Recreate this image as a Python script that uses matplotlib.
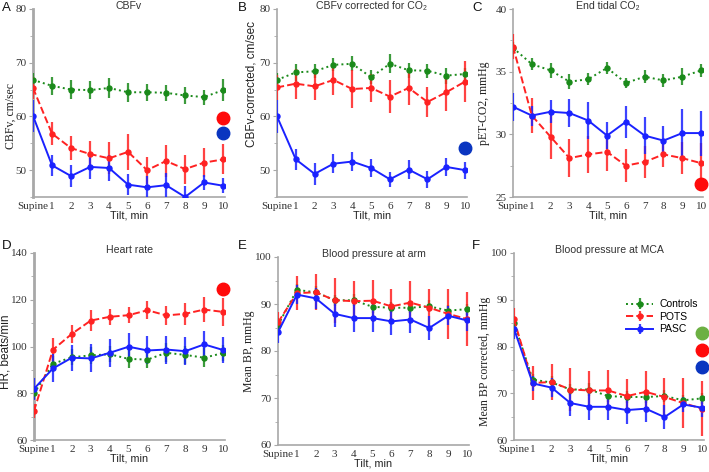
import matplotlib
matplotlib.use("Agg")
import matplotlib.pyplot as plt
from matplotlib.ticker import MultipleLocator

W, H = 709, 472

x_labels = ["Supine", "1", "2", "3", "4", "5", "6", "7", "8", "9", "10"]
x_pos = list(range(11))
groups = ["Controls", "POTS", "PASC"]

# Panel A: CBFv
a_ctrl = [66.8, 65.7, 65.0, 64.9, 65.3, 64.5, 64.5, 64.4, 63.9, 63.6, 64.9]
a_ctrl_err = [1.2, 1.7, 1.7, 1.7, 1.8, 1.8, 1.6, 1.5, 1.5, 1.4, 2.0]
a_pots = [65.3, 56.8, 54.1, 53.0, 52.2, 53.4, 50.0, 51.7, 50.2, 51.4, 52.0]
a_pots_err = [2.0, 2.2, 2.2, 2.4, 3.0, 3.4, 2.5, 2.9, 2.7, 2.7, 2.8]
a_pasc = [60.1, 50.9, 48.9, 50.6, 50.4, 47.3, 46.8, 47.2, 45.0, 47.7, 47.1]
a_pasc_err = [3.0, 2.0, 2.1, 2.3, 2.5, 2.0, 2.2, 2.2, 2.0, 1.4, 1.4]

# Panel B: CBFv corrected for CO2
b_ctrl = [66.8, 68.2, 68.4, 69.6, 69.8, 67.3, 69.8, 68.6, 68.5, 67.6, 67.9]
b_ctrl_err = [1.3, 1.6, 1.3, 1.2, 1.4, 1.3, 1.8, 1.4, 1.3, 1.5, 1.2]
b_pots = [65.4, 66.1, 65.6, 66.8, 65.1, 65.3, 63.7, 65.3, 62.7, 64.5, 66.5]
b_pots_err = [2.3, 2.8, 2.5, 2.9, 3.5, 2.6, 3.0, 3.1, 2.8, 3.4, 3.8]
b_pasc = [60.0, 52.0, 49.3, 51.2, 51.6, 50.4, 48.3, 50.1, 48.3, 50.6, 50.0]
b_pasc_err = [3.0, 2.0, 2.1, 1.8, 1.8, 1.6, 1.4, 1.7, 1.6, 1.6, 1.6]

# Panel C: End tidal CO2
c_ctrl = [36.9, 35.6, 35.1, 34.2, 34.4, 35.3, 34.1, 34.6, 34.3, 34.6, 35.1]
c_ctrl_err = [0.5, 0.5, 0.6, 0.6, 0.5, 0.5, 0.4, 0.5, 0.5, 0.7, 0.5]
c_pots = [37.0, 31.5, 29.8, 28.1, 28.4, 28.6, 27.5, 27.8, 28.4, 28.1, 27.7]
c_pots_err = [1.0, 1.4, 1.8, 1.5, 1.5, 1.5, 1.3, 1.3, 1.0, 1.3, 1.6]
c_pasc = [32.2, 31.5, 31.8, 31.7, 31.1, 29.9, 31.0, 29.9, 29.5, 30.1, 30.1]
c_pasc_err = [1.1, 0.8, 0.9, 1.1, 1.5, 1.1, 1.3, 1.5, 1.2, 1.9, 1.8]

# Panel D: Heart rate
d_ctrl = [79.9, 92.6, 95.4, 96.2, 96.7, 94.7, 94.4, 97.3, 96.4, 95.2, 97.2]
d_ctrl_err = [2.5, 3.5, 3.5, 3.5, 3.5, 4.0, 3.5, 4.0, 3.8, 4.0, 3.5]
d_pots = [72.4, 98.6, 105.4, 111.1, 112.7, 113.4, 115.5, 113.3, 114.0, 115.8, 114.8]
d_pots_err = [3.0, 5.0, 4.0, 4.5, 3.5, 3.5, 3.8, 3.9, 4.6, 5.4, 6.0]
d_pasc = [81.9, 90.6, 95.2, 94.9, 97.3, 99.9, 98.3, 98.7, 98.0, 100.9, 98.5]
d_pasc_err = [4.6, 6.0, 5.5, 6.0, 6.0, 6.0, 6.0, 6.0, 6.0, 5.7, 5.5]

# Panel E: Blood pressure at arm
e_ctrl = [85.5, 93.0, 92.5, 90.8, 90.8, 89.4, 89.2, 89.2, 89.5, 88.6, 88.9]
e_ctrl_err = [1.5, 1.3, 1.3, 1.2, 1.3, 1.3, 1.2, 1.2, 1.3, 1.2, 1.2]
e_pots = [86.1, 92.3, 92.5, 90.8, 90.6, 90.7, 89.5, 90.3, 89.2, 87.9, 86.8]
e_pots_err = [2.3, 3.6, 3.8, 4.8, 4.2, 4.5, 3.7, 4.6, 4.0, 5.3, 5.8]
e_pasc = [84.0, 92.0, 91.2, 87.9, 87.0, 87.0, 86.3, 86.7, 84.9, 87.5, 86.5]
e_pasc_err = [2.2, 2.0, 2.3, 2.8, 2.9, 3.0, 2.8, 2.9, 2.5, 2.0, 2.3]

# Panel F: Blood pressure at MCA
f_ctrl = [85.0, 72.9, 72.3, 70.8, 70.8, 69.4, 69.2, 69.2, 69.4, 68.5, 68.9]
f_ctrl_err = [1.5, 1.3, 1.3, 1.2, 1.3, 1.2, 1.2, 1.2, 1.2, 1.2, 1.2]
f_pots = [85.8, 72.2, 72.4, 70.8, 70.6, 70.6, 69.4, 70.3, 69.2, 67.9, 66.7]
f_pots_err = [2.5, 3.7, 3.9, 4.5, 4.1, 4.4, 3.7, 4.5, 4.0, 5.4, 5.9]
f_pasc = [83.8, 72.1, 71.2, 67.9, 67.1, 67.1, 66.4, 66.7, 64.9, 67.6, 66.9]
f_pasc_err = [2.2, 1.6, 2.0, 2.8, 2.9, 2.9, 2.9, 2.9, 2.5, 1.6, 2.0]

# significance markers: (x, y, colour key)
a_sig = [(10, 59.8, "red"), (10, 57.0, "blue")]
b_sig = [(10, 54.1, "blue")]
c_sig = [(10, 26.0, "red")]
d_sig = [(10, 124.6, "red")]
e_sig = []
f_sig = [(10, 82.9, "green"), (10, 79.3, "red"), (10, 75.6, "blue")]

line_col = {"Controls": "#1a8a1a", "POTS": "#ff2222", "PASC": "#1a22ff"}
line_sty = {"Controls": ":", "POTS": "--", "PASC": "-"}
sig_col = {"green": "#6cb043", "red": "#ff0a0a", "blue": "#0a35c0"}

SERIF = ["Liberation Serif", "DejaVu Serif"]
SANS = ["Liberation Sans", "DejaVu Sans"]

# box = (left px, top px, width px, height px); ylab = (x px centre, axes-fraction y)
panels = [
    dict(letter="A", lpos=(2, 2), title="CBFv", ylabel="CBFv, cm/sec", yfam=SERIF,
         ylim=(45, 80), yticks=[50, 60, 70, 80], minor=5, spw=2.0,
         data=[(a_ctrl, a_ctrl_err), (a_pots, a_pots_err), (a_pasc, a_pasc_err)],
         sig=a_sig, box=(33, 9, 192, 188), ylab=(11, 0.43)),
    dict(letter="B", lpos=(238, 2), title="CBFv corrected for CO₂", ylabel="CBFv-corrected, cm/sec",
         yfam=SANS, ylim=(45, 80), yticks=[50, 60, 70, 80], minor=5, spw=1.2,
         data=[(b_ctrl, b_ctrl_err), (b_pots, b_pots_err), (b_pasc, b_pasc_err)],
         sig=b_sig, box=(277, 9, 190, 188), ylab=(251, 0.6)),
    dict(letter="C", lpos=(472, 2), title="End tidal CO₂", ylabel="pET-CO2, mmHg", yfam=SERIF,
         ylim=(25, 40), yticks=[25, 30, 35, 40], minor=2.5, spw=1.2,
         data=[(c_ctrl, c_ctrl_err), (c_pots, c_pots_err), (c_pasc, c_pasc_err)],
         sig=c_sig, box=(513, 9, 190, 188), ylab=(484, 0.5)),
    dict(letter="D", lpos=(2, 240), title="Heart rate", ylabel="HR, beats/min", yfam=SANS,
         ylim=(60, 140), yticks=[60, 80, 100, 120, 140], minor=10, spw=2.0,
         data=[(d_ctrl, d_ctrl_err), (d_pots, d_pots_err), (d_pasc, d_pasc_err)],
         sig=d_sig, box=(34, 253, 191, 187), ylab=(5.6, 0.47)),
    dict(letter="E", lpos=(238, 240), title="Blood pressure at arm", ylabel="Mean BP, mmHg", yfam=SERIF,
         ylim=(60, 100), yticks=[60, 70, 80, 90, 100], minor=5, spw=1.2,
         data=[(e_ctrl, e_ctrl_err), (e_pots, e_pots_err), (e_pasc, e_pasc_err)],
         sig=e_sig, box=(278, 257, 191, 188), ylab=(249, 0.5)),
    dict(letter="F", lpos=(472, 240), title="Blood pressure at MCA", ylabel="Mean BP corrected, mmHg",
         yfam=SERIF, ylim=(60, 100), yticks=[60, 70, 80, 90, 100], minor=5, spw=1.2,
         data=[(f_ctrl, f_ctrl_err), (f_pots, f_pots_err), (f_pasc, f_pasc_err)],
         sig=f_sig, box=(514, 253, 190, 187), ylab=(485, 0.42)),
]

fig = plt.figure(figsize=(W / 100, H / 100), dpi=100)
fig.patch.set_facecolor("white")

legend_handles = None
for p in panels:
    l, t, w, h = p["box"]
    ax = fig.add_axes([l / W, 1 - (t + h) / H, w / W, h / H])
    handles = []
    for g, (vals, errs) in zip(groups, p["data"]):
        c = line_col[g]
        eb = ax.errorbar(x_pos, vals, yerr=errs, color=c, ecolor=c, elinewidth=1.6,
                         capsize=0, linestyle=line_sty[g], linewidth=1.4,
                         marker="o", markersize=3.6, label=g, zorder=3)
        for bar in eb[2]:
            bar.set_alpha(0.85)
        handles.append(eb)
    for (sx, sy, ck) in p["sig"]:
        ax.plot([sx], [sy], "o", color=sig_col[ck], markersize=9, clip_on=False, zorder=5)
    ax.set_xlim(0, 10.1)
    ax.set_ylim(*p["ylim"])
    ax.set_xticks(x_pos)
    ax.set_xticklabels(x_labels)
    ax.set_yticks(p["yticks"])
    ax.yaxis.set_minor_locator(MultipleLocator(p["minor"]))
    for s in ["top", "right"]:
        ax.spines[s].set_visible(False)
    for s in ["left", "bottom"]:
        ax.spines[s].set_color("#a8a8a8")
        ax.spines[s].set_linewidth(1.2)
    ax.spines["left"].set_linewidth(p["spw"])
    ax.tick_params(axis="x", length=0, pad=3.5, labelsize=8, colors="#333333")
    ax.tick_params(axis="y", which="major", length=3, width=0.8, color="#a8a8a8",
                   pad=1.5, labelsize=8, labelcolor="#333333")
    ax.tick_params(axis="y", which="minor", length=2, width=0.6, color="#a8a8a8")
    for lab in ax.get_xticklabels() + ax.get_yticklabels():
        lab.set_family(SERIF)
    ax.set_xlabel("Tilt, min", family=SANS, fontsize=7.8, color="#222222", labelpad=0)
    ax.set_ylabel(p["ylabel"], family=p["yfam"], fontsize=8.5, color="#222222",
                  ha="center", va="center")
    ax.yaxis.set_label_coords((p["ylab"][0] - l) / w, p["ylab"][1])
    ax.text(0.5, 1 + 3 / h, p["title"], transform=ax.transAxes, family=SANS,
            fontsize=7.6, color="#333333", ha="center", va="center")
    fig.text(p["lpos"][0] / W, 1 - p["lpos"][1] / H, p["letter"], family=SANS,
             fontsize=9.5, color="#111111", ha="left", va="top")
    if p["letter"] == "F":
        legend_handles = (ax, handles)

ax, handles = legend_handles
ax.legend(handles, groups, loc="upper left", bbox_to_anchor=(622 / W, 1 - 295 / H),
          bbox_transform=fig.transFigure, frameon=False,
          prop={"family": SANS, "size": 7.5}, handlelength=2.6, labelspacing=0.25,
          borderaxespad=0, handletextpad=0.6)

fig.savefig("out.png", dpi=100, facecolor="white")
